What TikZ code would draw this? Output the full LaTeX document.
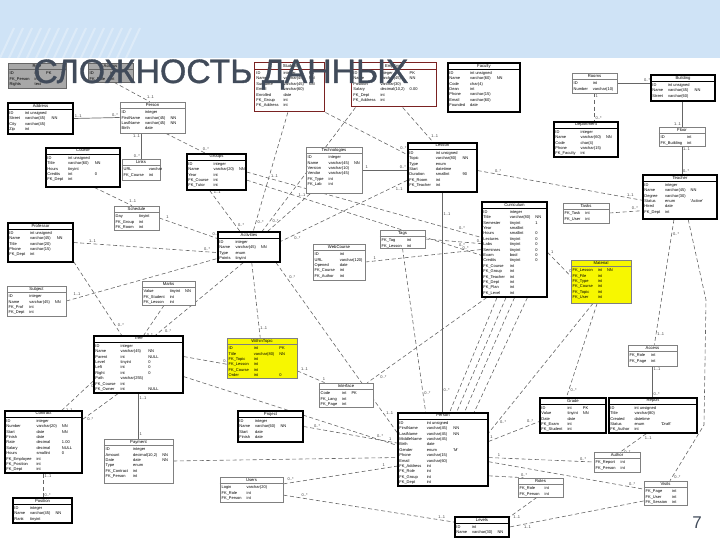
\documentclass[tikz,border=0pt]{standalone}
\usepackage{fontspec}
\newfontfamily\tabfont{Liberation Sans}
\newfontfamily\titlefont[FakeBold=1]{Liberation Sans}
\usetikzlibrary{fit,positioning,calc}

\definecolor{bandblue}{HTML}{CFE3F6}
\definecolor{titlecol}{HTML}{414B5A}
\definecolor{redline}{HTML}{7A2222}
\definecolor{selgray}{HTML}{A8A8A8}
\definecolor{markyel}{HTML}{F7F700}

\pgfdeclarelayer{bg}
\pgfsetlayers{bg,main}

\tikzset{
  tbl/.style={draw=black, line width=0.6pt, inner sep=0pt, fill=white},
  ltbl/.style={draw=black!50, line width=0.35pt, inner sep=0pt, fill=white},
  rtbl/.style={draw=redline, line width=0.5pt, inner sep=0pt, fill=white},
  gtbl/.style={draw=black!60, line width=0.35pt, inner sep=0pt, fill=selgray},
  ytbl/.style={draw=black!50, line width=0.35pt, inner sep=0pt, fill=markyel},
  hdr/.style={font=\tabfont\fontsize{2.1}{2.5}\selectfont, inner sep=0.6pt},
  rowtxt/.style={font=\tabfont\fontsize{2}{2.7}\selectfont, inner sep=0pt, align=left},
  rel/.style={draw=black!60, line width=0.3pt, dash pattern=on 2pt off 1.3pt},
  idrel/.style={draw=black!60, line width=0.35pt},
  card/.style={font=\tabfont\fontsize{2}{2}\selectfont, inner sep=0.4pt, text=black!75},
  cfrom/.style={card, pos=.1, auto},
  cto/.style={card, pos=.9, auto},
}

% table: [style]{name}{corners}{header}{rows}
\newcommand{\dbtable}[5][tbl]{%
  \node[#1, fit={#3}] (#2) {};
  \node[hdr, below=0pt of #2.north] (#2-h) {#4};
  \draw[#1, fill=none] ([yshift=-3.5pt]#2.north west) -- ([yshift=-3.5pt]#2.north east);
  \node[rowtxt, anchor=north west] (#2-r) at ([xshift=0.8pt, yshift=-3.9pt]#2.north west)
    {\begin{tabular}{@{}l@{\hspace{2.5pt}}l@{\hspace{2.5pt}}l@{}}#5\end{tabular}};
}

\begin{document}
\begin{tikzpicture}[x=0.5pt, y=-0.5pt]
  \useasboundingbox (0,0) rectangle (720,540);

  % tables, left part
  \dbtable[gtbl]{g1}{(8,63) (66,88)}{Role}{ID & int & PK\\ FK\_Person & int\\ Rights & text}
  \dbtable[gtbl]{g2}{(88,63) (133,82)}{Access}{ID & int\\ FK\_Role & int}
  \dbtable{t2}{(8,103) (73,134)}{Address}{ID & int unsigned\\ Street & varchar(45) & NN\\ City & varchar(45)\\ Zip & int}
  \dbtable[ltbl]{t3}{(120,102) (185,133)}{Person}{ID & integer\\ FirstName & varchar(45) & NN\\ LastName & varchar(45) & NN\\ Birth & date}
  \dbtable{t4}{(46,148) (120,187)}{Course}{ID & int unsigned\\ Title & varchar(60) & NN\\ Hours & tinyint\\ Credits & int & 0\\ FK\_Dept & int}
  \dbtable[ltbl]{t5}{(122,159) (160,180)}{Links}{URL & varchar\\ FK\_Course & int}
  \dbtable{t6}{(187,154) (246,190)}{Groups}{ID & integer\\ Name & varchar(20) & NN\\ Year & int\\ FK\_Course & int\\ FK\_Tutor & int}
  \dbtable[ltbl]{t7}{(114,206) (159,230)}{Schedule}{Day & tinyint\\ FK\_Group & int\\ FK\_Room & int}
  \dbtable{t8}{(8,223) (73,262)}{Professor}{ID & int unsigned\\ Name & varchar(45) & NN\\ Title & varchar(20)\\ Phone & varchar(15)\\ FK\_Dept & int}
  \dbtable[ltbl]{t8b}{(7,286) (66,316)}{Subject}{ID & integer\\ Name & varchar(45) & NN\\ FK\_Prof & int\\ FK\_Dept & int}
  \dbtable[ltbl]{t9b}{(142,281) (195,305)}{Marks}{Value & tinyint & NN\\ FK\_Student & int\\ FK\_Lesson & int}
  \dbtable{t29}{(94,336) (183,393)}{Tree}{ID & integer\\ Name & varchar(45) & NN\\ Parent & int & NULL\\ Level & tinyint & 0\\ Left & int & 0\\ Right & int & 0\\ Path & varchar(255)\\ FK\_Course & int\\ FK\_Owner & int & NULL}
  \dbtable{t37}{(5,411) (82,473)}{Contract}{ID & integer\\ Number & varchar(20) & NN\\ Start & date & NN\\ Finish & date\\ Rate & decimal & 1.00\\ Salary & decimal & NULL\\ Hours & smallint & 0\\ FK\_Employee & int\\ FK\_Position & int\\ FK\_Dept & int}
  \dbtable{t38}{(13,498) (72,523)}{Position}{ID & integer\\ Name & varchar(45) & NN\\ Rank & tinyint}
  \dbtable[ltbl]{t39}{(104,439) (173,483)}{Payment}{ID & integer\\ Amount & decimal(10,2) & NN\\ Date & date & NN\\ Type & enum\\ FK\_Contract & int\\ FK\_Person & int}

  % tables, middle part
  \dbtable[rtbl]{r1}{(255,63) (325,112)}{Student}{ID & integer & PK\\ Name & varchar(45) & NN\\ Surname & varchar(45) & NN\\ Email & varchar(60)\\ Enrolled & date\\ FK\_Group & int\\ FK\_Address & int}
  \dbtable[rtbl]{r2}{(352,63) (437,107)}{Employee}{ID & integer & PK\\ Name & varchar(45) & NN\\ Position & varchar(30)\\ Salary & decimal(10,2) & 0.00\\ FK\_Dept & int\\ FK\_Address & int}
  \dbtable[ltbl]{t21}{(306,147) (362,193)}{Technologies}{ID & integer\\ Name & varchar(45) & NN\\ Version & varchar(10)\\ Vendor & varchar(45)\\ FK\_Type & int\\ FK\_Lab & int}
  \dbtable{t22}{(218,232) (280,262)}{Activities}{ID & integer\\ Name & varchar(45) & NN\\ Type & enum\\ Points & tinyint}
  \dbtable[ltbl]{t23}{(313,244) (365,280)}{WebCourse}{ID & int\\ URL & varchar(120)\\ Opened & date\\ FK\_Course & int\\ FK\_Author & int}
  \dbtable[ltbl]{t24}{(380,230) (425,248)}{Tags}{FK\_Tag & int\\ FK\_Lesson & int}
  \dbtable[ytbl]{t25}{(227,338) (297,378)}{WithinTopic}{ID & int & PK\\ Title & varchar(80) & NN\\ FK\_Topic & int\\ FK\_Lesson & int\\ FK\_Course & int\\ Order & int & 0}
  \dbtable[ltbl]{t26}{(319,383) (373,407)}{Interface}{Code & int & PK\\ FK\_Lang & int\\ FK\_Page & int}
  \dbtable{t27}{(238,411) (303,442)}{Project}{ID & integer\\ Name & varchar(60) & NN\\ Start & date\\ Finish & date}
  \dbtable[ltbl]{t28}{(220,477) (283,502)}{Users}{Login & varchar(20)\\ FK\_Role & int\\ FK\_Person & int}
  \dbtable{t17}{(408,143) (477,192)}{Lesson}{ID & int unsigned\\ Topic & varchar(80) & NN\\ Type & enum\\ Start & datetime\\ Duration & smallint & 90\\ FK\_Room & int\\ FK\_Teacher & int}
  \dbtable{t30}{(398,413) (488,486)}{Person}{ID & int unsigned\\ FirstName & varchar(45) & NN\\ LastName & varchar(45) & NN\\ MiddleName & varchar(45)\\ Birth & date\\ Gender & enum & 'M'\\ Phone & varchar(15)\\ Email & varchar(60)\\ FK\_Address & int\\ FK\_Role & int\\ FK\_Group & int\\ FK\_Dept & int}
  \dbtable{t36}{(455,517) (509,537)}{Levels}{ID & int\\ Name & varchar(30) & NN}

  % tables, right part
  \dbtable{t10}{(448,63) (520,112)}{Faculty}{ID & int unsigned\\ Name & varchar(60) & NN\\ Code & char(4)\\ Dean & int\\ Phone & varchar(15)\\ Email & varchar(60)\\ Founded & date}
  \dbtable[ltbl]{t11}{(572,73) (617,93)}{Rooms}{ID & int\\ Number & varchar(10)}
  \dbtable{t12}{(651,75) (715,101)}{Building}{ID & int unsigned\\ Name & varchar(45) & NN\\ Street & varchar(60)}
  \dbtable{t13}{(554,122) (618,157)}{Department}{ID & integer\\ Name & varchar(60) & NN\\ Code & char(4)\\ Phone & varchar(15)\\ FK\_Faculty & int}
  \dbtable[ltbl]{t14}{(659,127) (705,146)}{Floor}{ID & int\\ FK\_Building & int}
  \dbtable{t15}{(643,175) (717,219)}{Teacher}{ID & integer\\ Name & varchar(45) & NN\\ Degree & varchar(30)\\ Status & enum & 'Active'\\ Hired & date\\ FK\_Dept & int}
  \dbtable[ltbl]{t16}{(563,203) (609,223)}{Tasks}{FK\_Task & int\\ FK\_User & int}
  \dbtable{t18}{(482,202) (547,297)}{Curriculum}{ID & integer\\ Title & varchar(80) & NN\\ Semester & tinyint & 1\\ Year & smallint\\ Hours & smallint & 0\\ Lectures & tinyint & 0\\ Labs & tinyint & 0\\ Seminars & tinyint & 0\\ Exam & bool & 0\\ Credits & tinyint & 0\\ FK\_Course & int\\ FK\_Group & int\\ FK\_Teacher & int\\ FK\_Dept & int\\ FK\_Plan & int\\ FK\_Level & int}
  \dbtable[ytbl]{t19}{(571,260) (631,303)}{Material}{FK\_Lesson & int & NN\\ FK\_File & int\\ FK\_Type & int\\ FK\_Course & int\\ FK\_Topic & int\\ FK\_User & int}
  \dbtable[ltbl]{t20}{(628,345) (677,366)}{Access}{FK\_Role & int\\ FK\_Page & int}
  \dbtable{t31}{(540,398) (606,433)}{Grade}{ID & int & PK\\ Value & tinyint & NN\\ Date & date\\ FK\_Exam & int\\ FK\_Student & int}
  \dbtable{t32}{(609,398) (697,433)}{Report}{ID & int unsigned\\ Title & varchar(80)\\ Created & datetime\\ Status & enum & 'Draft'\\ FK\_Author & int}
  \dbtable[ltbl]{t33}{(594,452) (640,472)}{Author}{FK\_Report & int\\ FK\_Person & int}
  \dbtable[ltbl]{t34}{(518,478) (563,497)}{Roles}{FK\_Role & int\\ FK\_Person & int}
  \dbtable[ltbl]{t35}{(644,481) (687,505)}{Visits}{FK\_Page & int\\ FK\_User & int\\ FK\_Session & int}

  \coordinate (bendA) at (706,300);
  \coordinate (bendB) at (704,425);

  \begin{pgfonlayer}{bg}
    \fill[bandblue] (0,0) rectangle (720,58);
    \foreach \i in {0,...,14}
      \draw[white, opacity=.3, line width=1pt] (\i*9,58) -- (\i*9+14,28);

    % relations
    \draw[rel] (g2.290) -- (t3.100) node[cto]{1..1};
    \draw[idrel] (t2.east) -- (t3.west) node[cfrom]{1..1} node[cto]{0..*};
    \draw[idrel] (t5.north) -- (t5.north |- t3.south) node[cfrom]{0..*} node[cto]{1..1};
    \draw[rel] (t3.310) -- (t6.120) node[cfrom]{1..1} node[cto]{0..*};
    \draw[rel] (t4.300) -- (t7.110) node[cfrom]{0..*} node[cto]{1..1};
    \draw[rel] (t8.east) -- (t22.190) node[cfrom]{1..1} node[cto]{0..*};
    \draw[rel] (t7.east) -- (t22.165) node[cfrom]{1} node[cto]{0..*};
    \draw[rel] (t6.250) -- (t22.120) node[cfrom]{1..1} node[cto]{0..*};
    \draw[rel] (r1.265) -- (t22.75) node[cto]{0..*};
    \draw[rel] ([xshift=2pt]r2.south west) -- (t22.50) node[cto]{0..*};
    \draw[rel] (r1.south east) -- (t17.160) node[cto]{0..*};
    \draw[rel] (r2.290) -- (t17.110) node[cto]{1..1};
    \draw[idrel] (t21.east) -- (t21.east -| t17.west) node[cfrom]{1} node[cto]{0..*};
    \draw[rel] (t22.40) -- (t21.225) node[cto]{1..1};
    \draw[rel] (t17.200) -- (t22.10) node[cfrom]{1..1} node[cto]{0..*};
    \draw[idrel] (t17.south) -- (t17.south |- t30.north) node[cfrom]{1..1} node[cto]{0..*};
    \draw[rel] (t17.355) -- (t15.185) node[cfrom]{0..*} node[cto]{1..1};
    \draw[idrel] (t11.east) -- (t11.east -| t12.west) node[cto]{0..*};
    \draw[rel] (t11.south) -- (t11.south |- t13.north) node[cfrom]{1} node[cto]{0..*};
    \draw[idrel] (t14.north) -- (t14.north |- t12.south) node[cfrom]{1..1};
    \draw[idrel] (t14.south) -- (t14.south |- t15.north) node[cfrom]{1..1} node[cto]{0..*};
    \draw[rel] (t16.east) -- (t15.200) node[cto]{0..*};
    \draw[rel] (t15.255) -- (t20.80) node[cfrom]{0..*} node[cto]{1..1};
    \draw[rel] (t15.290) -- (bendA) -- (bendB) -- (t35.70) node[cto]{0..*};
    \draw[idrel] (t20.south) -- (t20.south |- t32.north) node[cfrom]{1..1} node[cto]{0..*};
    \draw[rel] (t18.355) -- (t19.170) node[cfrom]{1} node[cto]{0..*};
    \draw[rel] (t19.250) -- (t30.20) node[cto]{0..*};
    \draw[rel] (t19.260) -- (t31.110) node[cto]{0..*};
    \draw[rel] (t23.east) -- (t18.west) node[cfrom]{1} node[cto]{0..*};
    \draw[rel] (t24.south) -- (t30.115) node[cto]{0..*};
    \draw[rel] (t24.east) -- (t18.170) node[cto]{0..*};
    \foreach \a/\b in {250/80, 260/70, 270/60, 285/50}
      \draw[rel] (t18.\a) -- (t30.\b);
    \draw[rel] (t18.240) -- (t26.30) node[cto]{0..*};
    \draw[rel] (t6.east) -- (t18.160) node[cfrom]{1..1} node[cto]{0..*};
    \draw[rel] (t6.345) -- (t18.190) node[cto]{0..*};
    \draw[rel] (t22.330) -- (t30.160) node[cfrom]{0..*} node[cto]{1..1};
    \draw[rel] (t22.250) -- (t29.60) node[cto]{0..*};
    \draw[rel] (t22.280) -- (t25.95) node[cto]{1..1};
    \draw[rel] (t9b.250) -- (t29.80) node[cto]{0..*};
    \draw[rel] (t8b.east) -- (t22.200) node[cfrom]{1..1};
    \draw[rel] (t8.330) -- (t29.120) node[cto]{0..*};
    \draw[rel] (t29.200) -- (t37.60) node[cfrom]{0..*} node[cto]{1..1};
    \draw[rel] (t29.235) -- (t37.30) node[cto]{0..*};
    \draw[idrel] (t29.south) -- (t29.south |- t39.north) node[cfrom]{1..1} node[cto]{1};
    \draw[rel] (t37.south) -- (t37.south |- t38.north) node[cfrom]{1..1} node[cto]{0..*};
    \draw[rel] (t29.10) -- (t25.190) node[cto]{0..*};
    \draw[rel] (t29.345) -- (t30.175) node[cto]{0..*};
    \draw[rel] (t25.340) -- (t26.150) node[cfrom]{1..1} node[cto]{1};
    \draw[rel] (t27.east) -- (t30.172) node[cfrom]{0..*} node[cto]{1};
    \draw[rel] (t39.east) -- (t30.190);
    \draw[rel] (t28.10) -- (t30.200) node[cfrom]{0..*} node[cto]{1};
    \draw[rel] (t28.350) -- (t36.170) node[cfrom]{0..*} node[cto]{1..1};
    \draw[rel] (t30.10) -- (t31.190) node[cfrom]{1} node[cto]{0..*};
    \draw[rel] (t30.350) -- (t33.west) node[cfrom]{1} node[cto]{0..*};
    \draw[rel] (t30.345) -- (t35.170) node[cto]{0..*};
    \draw[rel] (t30.330) -- (t34.150) node[cto]{0..*};
    \draw[rel] (t34.250) -- (t36.20) node[cto]{1..1};
    \draw[rel] (t35.200) -- (t36.east) node[cto]{1..1};
    \draw[rel] (t32.250) -- (t33.70) node[cfrom]{1..1} node[cto]{0..*};
  \end{pgfonlayer}

  \node[font=\titlefont\fontsize{16.9}{19}\selectfont, text=titlecol, anchor=base west, inner sep=0pt]
    (ttl) at (33,83) {СЛОЖНОСТЬ ДАННЫХ};
  \node[font=\tabfont\fontsize{8.5}{10}\selectfont, text=titlecol, anchor=base west, inner sep=0pt]
    (pg) at (692,529) {7};
\end{tikzpicture}
\end{document}
